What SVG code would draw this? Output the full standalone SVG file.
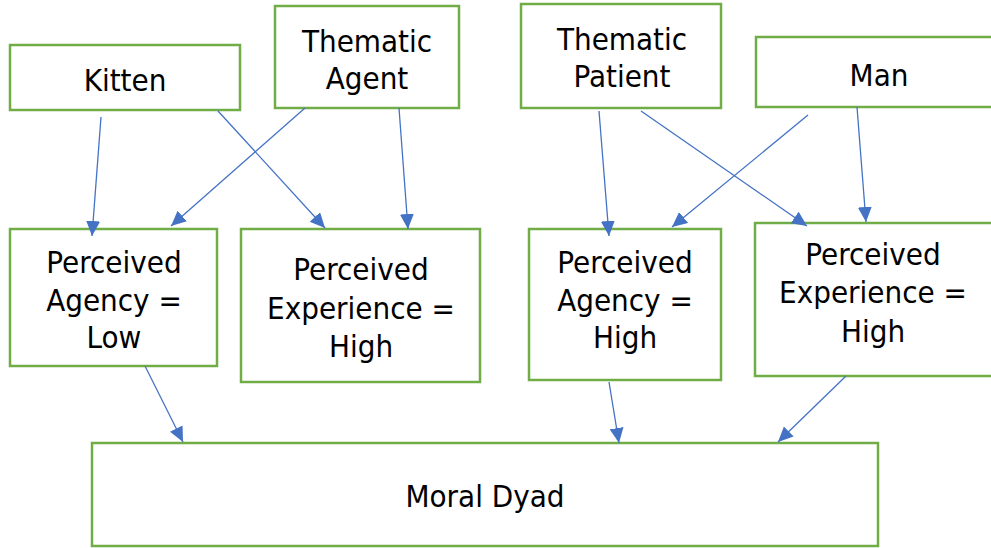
<svg xmlns="http://www.w3.org/2000/svg" width="991" height="548" viewBox="0 0 991 548">
  <style>
    .box { fill: #ffffff; stroke: #70AD47; stroke-width: 2.5; }
    .lbl { font-family: "DejaVu Sans Condensed", "DejaVu Sans", sans-serif; font-stretch: condensed; font-size: 31px; fill: #000000; text-anchor: middle; }
    .edge { fill: none; stroke: #4472C4; stroke-width: 1.3; marker-end: url(#tip); }
  </style>
  <defs>
    <marker id="tip" markerUnits="userSpaceOnUse" markerWidth="16" markerHeight="15" refX="15" refY="7" orient="auto">
      <path d="M0,0 L15,7 L0,14 z" fill="#4472C4"/>
    </marker>
  </defs>
  <rect width="991" height="548" fill="#ffffff"/>

  <g id="kitten">
    <rect class="box" x="10" y="45" width="230" height="65"/>
    <text class="lbl" x="125" y="91">Kitten</text>
  </g>
  <g id="thematic-agent">
    <rect class="box" x="275" y="6" width="184" height="102"/>
    <text class="lbl" x="367" y="52">Thematic</text>
    <text class="lbl" x="367" y="89">Agent</text>
  </g>
  <g id="thematic-patient">
    <rect class="box" x="521" y="4" width="200" height="104"/>
    <text class="lbl" x="622" y="50">Thematic</text>
    <text class="lbl" x="622" y="87">Patient</text>
  </g>
  <g id="man">
    <rect class="box" x="756" y="37" width="245" height="70"/>
    <text class="lbl" x="879" y="86">Man</text>
  </g>

  <g id="agency-low">
    <rect class="box" x="10" y="229" width="207" height="137"/>
    <text class="lbl" x="114" y="273">Perceived</text>
    <text class="lbl" x="114" y="311">Agency =</text>
    <text class="lbl" x="114" y="348">Low</text>
  </g>
  <g id="experience-high-left">
    <rect class="box" x="241" y="229" width="239" height="153"/>
    <text class="lbl" x="361" y="280">Perceived</text>
    <text class="lbl" x="361" y="319">Experience =</text>
    <text class="lbl" x="361" y="357">High</text>
  </g>
  <g id="agency-high">
    <rect class="box" x="529" y="229" width="192" height="151"/>
    <text class="lbl" x="625" y="273">Perceived</text>
    <text class="lbl" x="625" y="311">Agency =</text>
    <text class="lbl" x="625" y="348">High</text>
  </g>
  <g id="experience-high-right">
    <rect class="box" x="755" y="223" width="240" height="153"/>
    <text class="lbl" x="873" y="265">Perceived</text>
    <text class="lbl" x="873" y="303">Experience =</text>
    <text class="lbl" x="873" y="342">High</text>
  </g>

  <g id="moral-dyad">
    <rect class="box" x="92" y="443" width="786" height="103"/>
    <text class="lbl" x="485" y="507">Moral Dyad</text>
  </g>

  <g id="connectors">
    <line class="edge" x1="101" y1="117" x2="92" y2="236"/>
    <line class="edge" x1="218" y1="111" x2="325" y2="228"/>
    <line class="edge" x1="305" y1="108" x2="171" y2="226"/>
    <line class="edge" x1="399" y1="108" x2="408" y2="229"/>
    <line class="edge" x1="599" y1="111" x2="609" y2="236"/>
    <line class="edge" x1="641" y1="111" x2="807" y2="226"/>
    <line class="edge" x1="808" y1="115" x2="672" y2="227"/>
    <line class="edge" x1="857" y1="107" x2="866" y2="222"/>
    <line class="edge" x1="145" y1="366" x2="183" y2="442"/>
    <line class="edge" x1="609" y1="382" x2="619" y2="443"/>
    <line class="edge" x1="846" y1="376" x2="778" y2="442"/>
  </g>
</svg>
